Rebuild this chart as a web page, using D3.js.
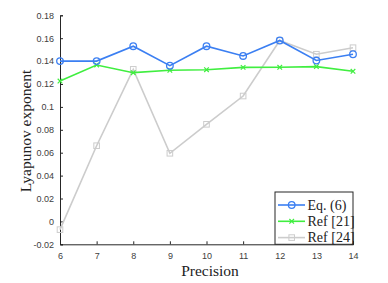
<!DOCTYPE html>
<html><head><meta charset="utf-8">
<script src="https://cdn.jsdelivr.net/npm/d3@7"></script>
<style>body{margin:0;background:#fff}</style>
</head><body>
<svg id="c" width="388" height="283"></svg>
<script>
const precision = [6,7,8,9,10,11,12,13,14];
const eq6   = [0.140,0.140,0.153,0.136,0.153,0.1445,0.158,0.1405,0.146];
const ref21 = [0.1226,0.1366,0.1299,0.132,0.1325,0.1345,0.1346,0.1352,0.1311];
const ref24 = [-0.0072,0.0661,0.1328,0.0595,0.0848,0.1095,0.158,0.146,0.1517];
const xTicks = [6,7,8,9,10,11,12,13,14];
const yTicks = [-0.02,0,0.02,0.04,0.06,0.08,0.1,0.12,0.14,0.16,0.18];
const seriesNames = ["Eq. (6)","Ref [21]","Ref [24]"];

const svg = d3.select("#c");
const x = d3.scaleLinear().domain([6,14]).range([60,353]);
const y = d3.scaleLinear().domain([-0.02,0.18]).range([244.3,15.3]);

const fmt = d => (d===0?"0":String(+d.toFixed(2)));
const ax = svg.append("g").attr("transform","translate(0,244.3)")
  .call(d3.axisBottom(x).tickValues(xTicks).tickSize(-3).tickPadding(8).tickFormat(d3.format("d")));
const ay = svg.append("g").attr("transform","translate(60,0)")
  .call(d3.axisLeft(y).tickValues(yTicks).tickSize(-3).tickPadding(6).tickFormat(fmt));
[ax,ay].forEach(g=>{
  g.select(".domain").attr("stroke","#262626").attr("stroke-width",1);
  g.selectAll(".tick line").attr("stroke","#262626");
  g.selectAll("text").attr("font-family","Arial, 'Liberation Sans', sans-serif").attr("font-size",9).attr("fill","#404040");
});

const series = [
  {name:seriesNames[0], vals:eq6, color:"#3b7ff2", marker:"circle"},
  {name:seriesNames[1], vals:ref21, color:"#40ee40", marker:"x"},
  {name:seriesNames[2], vals:ref24, color:"#cccccc", marker:"square"}
];
const line = d3.line().x((d,i)=>x(precision[i])).y(d=>y(d));

function drawMarker(g, type, cx, cy, color){
  if(type==="circle") g.append("circle").attr("cx",cx).attr("cy",cy).attr("r",3.3).attr("fill","none").attr("stroke",color).attr("stroke-width",1.3);
  else if(type==="x"){
    const s=2.3;
    g.append("path").attr("d",`M${cx-s},${cy-s}L${cx+s},${cy+s}M${cx-s},${cy+s}L${cx+s},${cy-s}`).attr("stroke",color).attr("stroke-width",1.2);
  } else g.append("rect").attr("x",cx-2.8).attr("y",cy-2.8).attr("width",5.6).attr("height",5.6).attr("fill","none").attr("stroke",color).attr("stroke-width",1);
}

[series[2],series[1],series[0]].forEach(s=>{
  const g = svg.append("g");
  g.append("path").datum(s.vals).attr("d",line).attr("fill","none").attr("stroke",s.color).attr("stroke-width",1.6);
  s.vals.forEach((v,i)=>drawMarker(g,s.marker,x(precision[i]),y(v),s.color));
});

const lg = svg.append("g");
lg.append("rect").attr("x",275).attr("y",192).attr("width",78).attr("height",52.3).attr("fill","#fff").attr("stroke","#262626").attr("stroke-width",1);
series.forEach((s,i)=>{
  const ly = 205 + i*16.3;
  lg.append("line").attr("x1",278).attr("x2",305).attr("y1",ly).attr("y2",ly).attr("stroke",s.color).attr("stroke-width",1.6);
  drawMarker(lg,s.marker,291.7,ly,s.color);
  lg.append("text").attr("x",307.5).attr("y",ly+4.5).attr("font-family","'Liberation Serif','Times New Roman',serif").attr("font-size",14).attr("fill","#222").text(s.name);
});

svg.append("text").attr("transform","translate(31,131) rotate(-90)").attr("text-anchor","middle")
  .attr("font-family","'Liberation Serif','Times New Roman',serif").attr("font-size",15.5).attr("fill","#222").text("Lyapunov exponent");
svg.append("text").attr("x",210).attr("y",276).attr("text-anchor","middle")
  .attr("font-family","'Liberation Serif','Times New Roman',serif").attr("font-size",15.5).attr("fill","#222").text("Precision");
</script>
</body></html>
